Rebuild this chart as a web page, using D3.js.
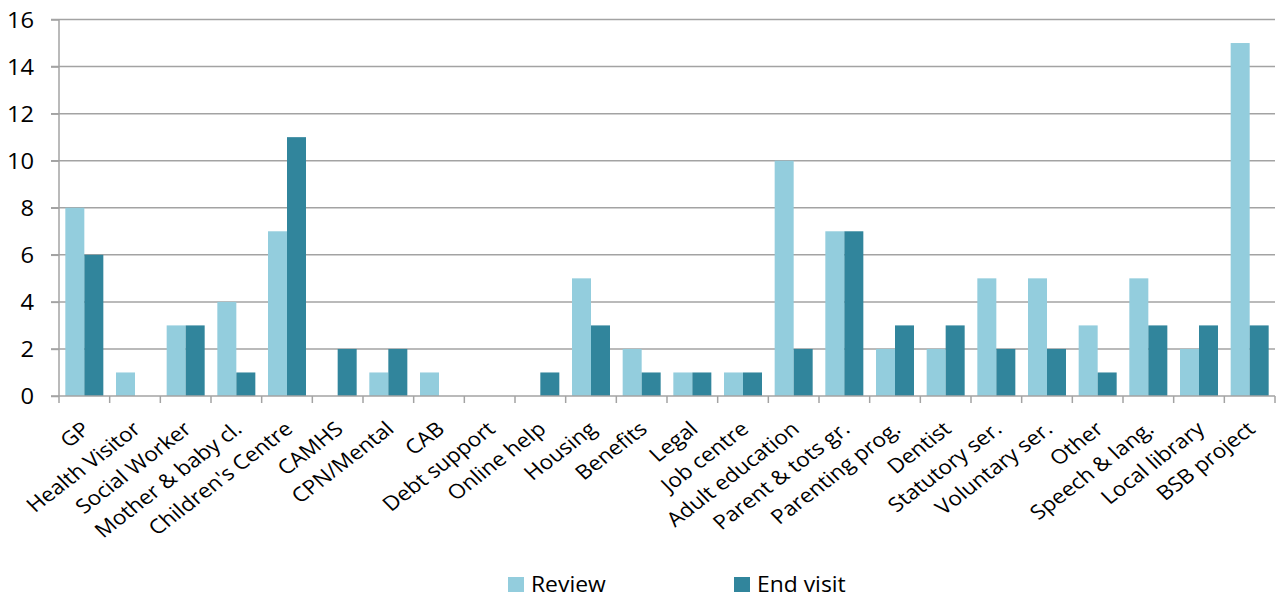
<!DOCTYPE html>
<html><head><meta charset="utf-8">
<script src="https://cdn.jsdelivr.net/npm/d3@7"></script>
<style>body{margin:0;background:#fff;} svg{display:block;font-family:"Open Sans",sans-serif;}</style>
</head><body>
<script>
const categories = ["GP","Health Visitor","Social Worker","Mother & baby cl.","Children's Centre","CAMHS","CPN/Mental","CAB","Debt support","Online help","Housing","Benefits","Legal","Job centre","Adult education","Parent & tots gr.","Parenting prog.","Dentist","Statutory ser.","Voluntary ser.","Other","Speech & lang.","Local library","BSB project"];
const review   = [8,1,3,4,7,0,1,1,0,0,5,2,1,1,10,7,2,2,5,5,3,5,2,15];
const endVisit = [6,0,3,1,11,2,2,0,0,1,3,1,1,1,2,7,3,3,2,2,1,3,3,3];
const seriesNames = ["Review","End visit"];
const colors = ["#93CDDD","#31859C"];
const yTicks = [0,2,4,6,8,10,12,14,16];

const W=1286,H=596;
const m={l:59,r:11,t:19.5,b:200};
const SX=1.13;
const svg=d3.select("body").append("svg").attr("width",W).attr("height",H);
const x0=d3.scaleBand().domain(categories).range([m.l,W-m.r]).paddingInner(0.25).paddingOuter(0.125);
const x1=d3.scaleBand().domain(seriesNames).range([0,x0.bandwidth()]);
const y=d3.scaleLinear().domain([0,16]).range([H-m.b,m.t]);
const grid="#a3a3a3";

// gridlines
svg.append("g").selectAll("line").data(yTicks.filter(d=>d>0)).join("line")
  .attr("x1",m.l-8).attr("x2",W-m.r).attr("y1",d=>y(d)).attr("y2",d=>y(d))
  .attr("stroke",grid).attr("stroke-width",1.5);

// bars
const data=categories.map((c,i)=>({c,vals:[review[i],endVisit[i]]}));
const g=svg.append("g").selectAll("g").data(data).join("g").attr("transform",d=>`translate(${x0(d.c)},0)`);
g.selectAll("rect").data(d=>d.vals.map((v,j)=>({v,j}))).join("rect")
  .attr("x",d=>x1(seriesNames[d.j])).attr("width",x1.bandwidth())
  .attr("y",d=>y(d.v)).attr("height",d=>y(0)-y(d.v)).attr("fill",d=>colors[d.j]);

// y axis
const ya=svg.append("g").attr("transform",`translate(${m.l},0)`)
  .call(d3.axisLeft(y).tickValues(yTicks).tickSize(8).tickPadding(8));
ya.select(".domain").attr("stroke",grid).attr("stroke-width",1.5).attr("d",`M0,${y(0)}V${y(16)}`);
ya.selectAll(".tick line").attr("stroke",grid).attr("stroke-width",1.5);
ya.selectAll(".tick text").attr("x",null).attr("dy",null)
  .attr("transform",`translate(-25,7.5) scale(${SX},1)`)
  .attr("font-size",21).attr("fill","#000").attr("font-family","'Open Sans',sans-serif");

// x axis
const step=x0.step();
const boundaries=d3.range(categories.length+1).map(i=>m.l+i*step);
svg.append("line").attr("x1",m.l-8).attr("x2",W-m.r).attr("y1",y(0)).attr("y2",y(0)).attr("stroke",grid).attr("stroke-width",1.5);
svg.append("g").selectAll("line").data(boundaries).join("line")
  .attr("x1",d=>d).attr("x2",d=>d).attr("y1",y(0)).attr("y2",y(0)+7).attr("stroke",grid).attr("stroke-width",1.5);
svg.append("g").selectAll("text").data(categories).join("text")
  .attr("transform",d=>`translate(${x0(d)+x0.bandwidth()/2+7},${y(0)+35}) scale(${SX},1) rotate(-41)`)
  .attr("text-anchor","end").attr("font-size",20).attr("fill","#000").text(d=>d);

// legend
const leg=svg.append("g");
const lx=[508,734];
seriesNames.forEach((s,i)=>{
  leg.append("rect").attr("x",lx[i]).attr("y",577).attr("width",16).attr("height",15).attr("fill",colors[i]);
  leg.append("text").attr("transform",`translate(${lx[i]+23},591.5) scale(1.09,1)`)
    .attr("font-size",21).attr("fill","#000").text(s);
});
</script>
</body></html>
